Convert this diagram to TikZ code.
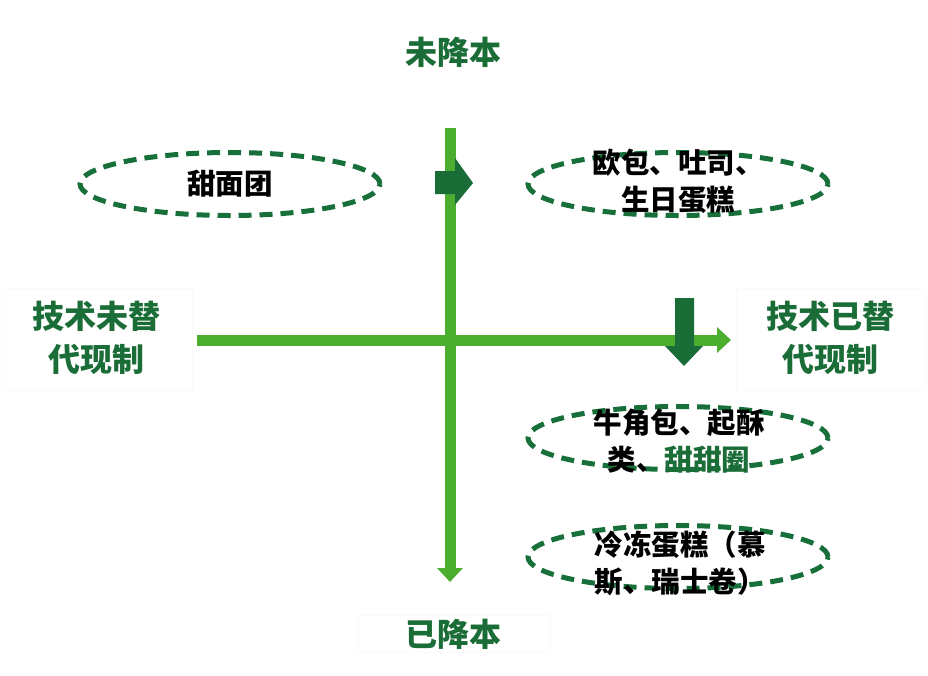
\documentclass[tikz,border=0pt]{standalone}
\usepackage{fontspec}
\newfontfamily\cjk{Noto Sans CJK SC}
\usetikzlibrary{arrows.meta,shapes.geometric}
\definecolor{lg}{HTML}{4BAE2F}
\definecolor{dg}{HTML}{1B6D38}
\definecolor{eg}{HTML}{17703A}
\tikzset{
  x=1pt, y=-1pt,
  oval/.style={ellipse, draw=eg, line width=5pt, dash pattern=on 13pt off 8pt, minimum width=300pt, minimum height=63pt, inner sep=0pt},
  ovtext/.style={font=\cjk\bfseries\fontsize{28.5}{37}\selectfont, align=center, text=black},
  axlabel/.style={font=\cjk\bfseries\fontsize{32}{43}\selectfont, align=center, text=dg},
  faintbox/.style={draw=black!2, fill=white, line width=0.6pt},
  axis/.style={draw=lg, line width=11pt, -{Triangle[length=14pt,width=25pt]}},
}
\begin{document}
\begin{tikzpicture}
\useasboundingbox[fill=white] (0,0) rectangle (928,675);
% faint label boxes
\draw[faintbox] (2,288) rectangle (192,390);
\draw[faintbox] (736,288) rectangle (926,390);
\draw[faintbox] (358,615) rectangle (550,652);
% axes
\coordinate (vs) at (450,128);
\coordinate (ve) at (450,582);
\coordinate (hs) at (197,340);
\coordinate (he) at (731,340);
\draw[axis] (vs) -- (ve);
\draw[axis] (hs) -- (he);
% dark block arrows
\fill[dg] (435,171) -- (455,171) -- (455,158) -- (473,183) -- (455,205) -- (455,194) -- (435,194) -- cycle;
\fill[dg] (675,298) -- (694,298) -- (694,346) -- (703,346) -- (684,366) -- (665,346) -- (675,346) -- cycle;
% labels
\node[axlabel] (top) at (453,52) {未降本};
\node[axlabel] (bot) at (453,634) {已降本};
\node[axlabel] (left) at (96,338) {技术未替\\代现制};
\node[axlabel] (right) at (830,338) {技术已替\\代现制};
% ovals
\node[oval] (o1) at (230,184) {};
\node[ovtext] (t1) at (230,184) {甜面团};
\node[oval] (o2) at (678,184) {};
\node[ovtext] (t2) at (678,181) {欧包、吐司、\\生日蛋糕};
\node[oval] (o3) at (678,438) {};
\node[ovtext] (t3) at (679,441) {牛角包、起酥\\类、\textcolor{dg}{甜甜圈}};
\node[oval] (o4) at (678,557) {};
\node[ovtext] (t4) at (680,563) {冷冻蛋糕（慕\\斯、瑞士卷）};
\end{tikzpicture}
\end{document}
